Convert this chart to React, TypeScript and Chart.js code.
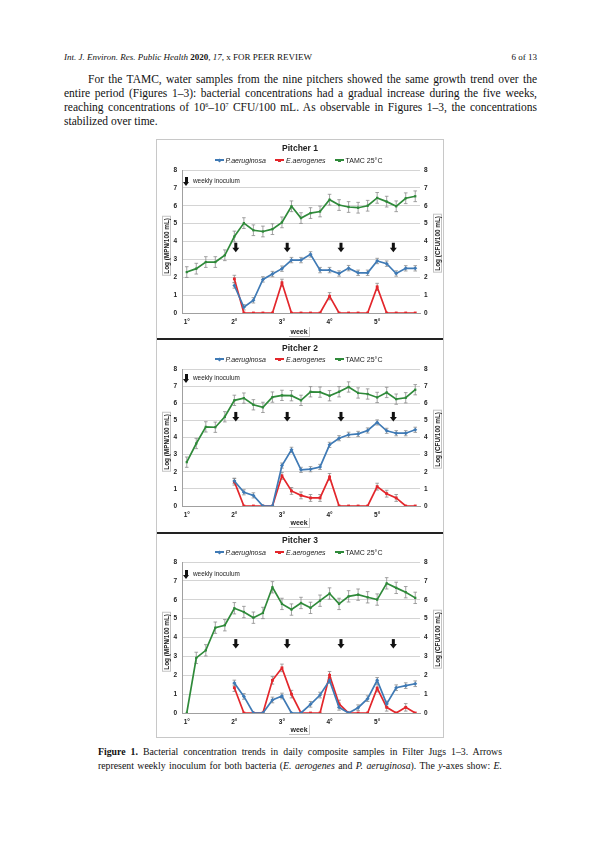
import React, { useEffect, useRef } from 'react';
import { Chart, registerables } from 'chart.js';
Chart.register(...registerables);

// ---------- data ----------
const dayLabels = ['1°', '', '', '', '', '2°', '', '', '', '', '3°', '', '', '', '', '4°', '', '', '', '', '5°', '', '', '', ''];
const yTicks = [0, 1, 2, 3, 4, 5, 6, 7, 8];
const arrowDays = [5.15, 10.55, 16.2, 21.7];

const p1Tamc = [2.29, 2.48, 2.85, 2.85, 3.23, 4.28, 5.03, 4.63, 4.56, 4.69, 5.07, 5.97, 5.31, 5.59, 5.68, 6.34, 6.04, 5.93, 5.89, 6.0, 6.44, 6.23, 5.97, 6.42, 6.53];
const p1Pa = [null, null, null, null, null, 1.54, 0.32, 0.71, 1.88, 2.18, 2.48, 2.96, 2.96, 3.28, 2.4, 2.4, 2.21, 2.51, 2.25, 2.25, 2.91, 2.76, 2.21, 2.5, 2.5];
const p1Ea = [null, null, null, null, null, 1.91, 0, 0, 0, 0, 1.69, 0, 0, 0, 0, 0.94, 0, 0, 0, 0, 1.46, 0, 0, 0, 0];

const p2Tamc = [2.56, 3.65, 4.62, 4.6, 5.21, 6.17, 6.3, 5.91, 5.76, 6.36, 6.46, 6.44, 6.17, 6.67, 6.65, 6.44, 6.67, 6.95, 6.6, 6.54, 6.34, 6.63, 6.24, 6.32, 6.79];
const p2Pa = [null, null, null, null, null, 1.46, 0.8, 0.62, 0, 0, 2.36, 3.28, 2.11, 2.15, 2.28, 3.57, 3.96, 4.16, 4.21, 4.41, 4.88, 4.39, 4.25, 4.25, 4.45];
const p2Ea = [null, null, null, null, null, 1.42, 0, 0, 0, 0, 1.76, 0.88, 0.62, 0.47, 0.47, 1.7, 0, 0, 0, 0, 1.13, 0.72, 0.47, 0, 0];

const p3Tamc = [0, 2.92, 3.32, 4.52, 4.65, 5.55, 5.35, 5.05, 5.3, 6.66, 5.78, 5.48, 5.83, 5.57, 5.95, 6.33, 5.78, 6.18, 6.27, 6.13, 6.01, 6.87, 6.63, 6.4, 6.1];
const p3Pa = [null, null, null, null, null, 1.59, 0.88, 0, 0, 0.69, 0.9, 0, 0, 0.46, 0.95, 1.73, 0.3, 0, 0.28, 0.76, 1.73, 0.48, 1.34, 1.45, 1.55];
const p3Ea = [null, null, null, null, null, 1.34, 0, 0, 0, 1.73, 2.39, 1.0, 0, 0, 0, 2.0, 0.48, 0, 0, 0, 1.32, 0.3, 0, 0.3, 0];

const errTamc = 0.3;
const errPa = 0.15;
const errEa = 0.2;

// ---------- styles ----------
const SANS = "'Liberation Sans', Arial, sans-serif";
const SERIF = "'Liberation Serif', 'Times New Roman', serif";
const BLUE = '#3f7ab5';
const RED = '#e3262b';
const GREEN = '#2f8a3a';
const FIG_LEFT = 157;
const FIG_W = 286;
const PLOT_LEFT = 182;
const PLOT_RIGHT = 420;

const errPlugin = {
  id: 'errbars',
  beforeDatasetsDraw(chart: any) {
    const ctx = chart.ctx;
    const y = chart.scales.y;
    ctx.save();
    ctx.strokeStyle = '#8c8c8c';
    ctx.lineWidth = 0.8;
    chart.data.datasets.forEach((ds: any, di: number) => {
      const meta = chart.getDatasetMeta(di);
      ds.data.forEach((v: any, i: number) => {
        if (v === null || v === 0) return;
        const px = meta.data[i].x;
        const top = y.getPixelForValue(v + ds.err);
        const bot = y.getPixelForValue(v - ds.err);
        ctx.beginPath();
        ctx.moveTo(px, top); ctx.lineTo(px, bot);
        ctx.moveTo(px - 1.8, top); ctx.lineTo(px + 1.8, top);
        ctx.moveTo(px - 1.8, bot); ctx.lineTo(px + 1.8, bot);
        ctx.stroke();
      });
    });
    ctx.restore();
  },
};

function drawArrow(ctx: any, cx: number, cy: number) {
  ctx.fillStyle = '#111';
  ctx.fillRect(cx - 1.5, cy - 5, 3, 5.5);
  ctx.beginPath();
  ctx.moveTo(cx - 3.5, cy);
  ctx.lineTo(cx + 3.5, cy);
  ctx.lineTo(cx, cy + 4.5);
  ctx.closePath();
  ctx.fill();
}

const arrowPlugin = {
  id: 'arrows',
  afterDatasetsDraw(chart: any, _args: any, opts: any) {
    const ctx = chart.ctx;
    const xs = chart.scales.x;
    const ys = chart.scales.y;
    ctx.save();
    arrowDays.forEach((d) => {
      drawArrow(ctx, xs.getPixelForValue(d), ys.getPixelForValue(opts.level));
    });
    ctx.restore();
  },
};

type PanelProps = {
  title: string;
  tamc: number[];
  pa: (number | null)[];
  ea: (number | null)[];
  arrowLevel: number;
  top: number;
  height: number;
  plotTop: number;
  plotBottom: number;
  titleY: number;
  legendY: number;
  inocY: number;
  weekY: number;
  borderTop: boolean;
  thickBottom: boolean;
};

function LegendItem({ color, shape, children }: any) {
  return (
    <span style={{ display: 'inline-flex', alignItems: 'center', marginRight: 9 }}>
      <span style={{ position: 'relative', display: 'inline-block', width: 9, height: 6, marginRight: 2 }}>
        <span style={{ position: 'absolute', left: 0, top: 2.2, width: 9, height: 1.6, background: color }} />
        <span
          style={{
            position: 'absolute',
            left: 3,
            top: 1.5,
            width: 3,
            height: 3,
            background: color,
            transform: shape === 'diamond' ? 'rotate(45deg)' : 'none',
          }}
        />
      </span>
      <span>{children}</span>
    </span>
  );
}

function AxisTitle({ cx, cy, text }: { cx: number; cy: number; text: string }) {
  return (
    <div
      style={{
        position: 'absolute',
        left: cx - 20,
        top: cy - 60,
        width: 40,
        height: 120,
        display: 'flex',
        alignItems: 'center',
        justifyContent: 'center',
      }}
    >
      <div
        style={{
          writingMode: 'vertical-rl',
          transform: 'rotate(180deg)',
          border: '1px solid #c4c4c4',
          padding: '1px 0',
          fontFamily: SANS,
          fontWeight: 'bold',
          fontSize: 6.4,
          color: '#222',
          whiteSpace: 'nowrap',
        }}
      >
        {text}
      </div>
    </div>
  );
}

function Panel(p: PanelProps) {
  const ref = useRef<HTMLCanvasElement>(null);
  useEffect(() => {
    if (!ref.current) return;
    const bottomH = p.height - (p.plotBottom - p.top);
    const chart = new Chart(ref.current, {
      type: 'line',
      data: {
        labels: dayLabels,
        datasets: [
          {
            label: 'P.aeruginosa',
            data: p.pa,
            borderColor: BLUE,
            backgroundColor: BLUE,
            borderWidth: 1.7,
            pointStyle: 'rectRot',
            pointRadius: 2,
            pointBorderWidth: 0,
            err: errPa,
          } as any,
          {
            label: 'E.aerogenes',
            data: p.ea,
            borderColor: RED,
            backgroundColor: RED,
            borderWidth: 1.7,
            pointStyle: 'rect',
            pointRadius: 2,
            pointBorderWidth: 0,
            err: errEa,
          } as any,
          {
            label: 'TAMC 25°C',
            data: p.tamc,
            borderColor: GREEN,
            backgroundColor: GREEN,
            borderWidth: 1.7,
            pointStyle: 'rect',
            pointRadius: 1.6,
            pointBorderWidth: 0,
            err: errTamc,
          } as any,
        ],
      },
      options: {
        animation: false,
        responsive: false,
        devicePixelRatio: 1,
        layout: { padding: { top: p.plotTop - p.top, left: 0, right: 0, bottom: 0 } },
        plugins: {
          legend: { display: false },
          tooltip: { enabled: false },
          title: { display: false },
          arrows: { level: p.arrowLevel },
        } as any,
        scales: {
          x: {
            type: 'category',
            offset: true,
            grid: { color: 'transparent', drawTicks: false },
            border: { display: true, color: '#a0a0a0', width: 1 },
            ticks: {
              autoSkip: false,
              maxRotation: 0,
              padding: 5,
              color: '#222',
              font: { family: SANS, size: 6.5, weight: 'bold' },
            },
            afterFit: (s: any) => { s.height = bottomH; },
          },
          y: {
            position: 'left',
            min: 0,
            max: 8,
            afterBuildTicks: (s: any) => { s.ticks = yTicks.map((v) => ({ value: v })); },
            grid: { color: '#d4d4d4', drawTicks: false },
            border: { display: true, color: '#a0a0a0' },
            ticks: { padding: 5, color: '#222', font: { family: SANS, size: 6.5, weight: 'bold' } },
            afterFit: (s: any) => { s.width = PLOT_LEFT - FIG_LEFT; },
          },
          y2: {
            position: 'right',
            min: 0,
            max: 8,
            afterBuildTicks: (s: any) => { s.ticks = yTicks.map((v) => ({ value: v })); },
            grid: { display: false, drawTicks: false },
            border: { display: false },
            ticks: { padding: 4, color: '#222', font: { family: SANS, size: 6.5, weight: 'bold' } },
            afterFit: (s: any) => { s.width = FIG_LEFT + FIG_W - PLOT_RIGHT; },
          },
        },
      } as any,
      plugins: [errPlugin, arrowPlugin],
    });
    return () => chart.destroy();
  }, []);

  const cx = FIG_LEFT + FIG_W / 2;
  const plotMid = (p.plotTop + p.plotBottom) / 2;
  return (
    <>
      <canvas
        ref={ref}
        width={FIG_W}
        height={p.height}
        style={{ position: 'absolute', left: FIG_LEFT, top: p.top, width: FIG_W, height: p.height }}
      />
      <div
        style={{
          position: 'absolute',
          left: FIG_LEFT - 1,
          top: p.top - (p.borderTop ? 1 : 0),
          width: FIG_W,
          height: p.height,
          borderLeft: '1px solid #c8c8c8',
          borderRight: '1px solid #c8c8c8',
          borderTop: p.borderTop ? '1px solid #c8c8c8' : 'none',
          borderBottom: p.thickBottom ? '2px solid #222' : '1px solid #c8c8c8',
          boxSizing: 'content-box',
          pointerEvents: 'none',
        }}
      />
      <div
        style={{
          position: 'absolute', left: FIG_LEFT, width: FIG_W, top: p.titleY - 6, height: 12, lineHeight: '12px',
          textAlign: 'center', fontFamily: SANS, fontWeight: 'bold', fontSize: 8.5, color: '#222',
        }}
      >
        {p.title}
      </div>
      <div
        style={{
          position: 'absolute', left: FIG_LEFT + 3, width: FIG_W, top: p.legendY - 5, height: 10,
          display: 'flex', justifyContent: 'center', alignItems: 'center',
          fontFamily: SANS, fontSize: 7, color: '#222',
        }}
      >
        <LegendItem color={BLUE} shape="diamond"><i>P.aeruginosa</i></LegendItem>
        <LegendItem color={RED} shape="square"><i>E.aerogenes</i></LegendItem>
        <LegendItem color={GREEN} shape="square">TAMC 25°C</LegendItem>
      </div>
      <div style={{ position: 'absolute', left: 184, top: p.inocY - 4.5, width: 5, height: 9 }}>
        <div style={{ position: 'absolute', left: 1, top: 0, width: 3, height: 5, background: '#111' }} />
        <div
          style={{
            position: 'absolute', left: -1, top: 5, width: 0, height: 0,
            borderLeft: '3.5px solid transparent', borderRight: '3.5px solid transparent', borderTop: '4.5px solid #111',
          }}
        />
      </div>
      <div
        style={{
          position: 'absolute', left: 193, top: p.inocY - 5, height: 10, lineHeight: '10px',
          fontFamily: SANS, fontSize: 6.4, color: '#222', whiteSpace: 'nowrap',
        }}
      >
        weekly inoculum
      </div>
      <AxisTitle cx={166} cy={plotMid + 4} text="Log (MPN/100 mL)" />
      <AxisTitle cx={437} cy={plotMid + 2} text="Log (CFU/100 mL)" />
      <div
        style={{
          position: 'absolute', left: cx - 11, top: p.weekY - 5, width: 21, height: 10, lineHeight: '10px',
          border: '1px solid #c4c4c4', borderTop: 'none', borderLeft: 'none', boxSizing: 'border-box',
          textAlign: 'center', fontFamily: SANS, fontWeight: 'bold', fontSize: 7, color: '#222',
        }}
      >
        week
      </div>
    </>
  );
}

const bodyLine = (top: number, indent: number, justify: boolean, content: any) => (
  <div
    style={{
      position: 'absolute', left: 64 + indent, top, width: 473 - indent, height: 14, lineHeight: '14px',
      fontFamily: SERIF, fontSize: 11.5, color: '#111',
      textAlign: justify ? 'justify' : 'left', textAlignLast: justify ? 'justify' : 'left',
    } as any}
  >
    {content}
  </div>
);

const capLine = (top: number, content: any) => (
  <div
    style={{
      position: 'absolute', left: 98, top, width: 404, height: 13, lineHeight: '13px',
      fontFamily: SERIF, fontSize: 9.8, color: '#111', textAlign: 'justify', textAlignLast: 'justify',
    } as any}
  >
    {content}
  </div>
);

const supStyle = { fontSize: 6, lineHeight: 0, verticalAlign: 'baseline', position: 'relative', top: -4 } as any;

export default function App() {
  return (
    <div style={{ position: 'absolute', left: 0, top: 0, width: 601, height: 850, background: '#fff', overflow: 'hidden' }}>
      <div style={{ position: 'absolute', left: 64, top: 51, fontFamily: SERIF, fontSize: 9, lineHeight: '12px', color: '#111', whiteSpace: 'nowrap' }}>
        <i>Int. J. Environ. Res. Public Health</i> <b>2020</b>, <i>17</i>, x FOR PEER REVIEW
      </div>
      <div style={{ position: 'absolute', left: 437, width: 100, top: 51, fontFamily: SERIF, fontSize: 9, lineHeight: '12px', color: '#111', textAlign: 'right' }}>
        6 of 13
      </div>
      {bodyLine(72, 24, true, 'For the TAMC, water samples from the nine pitchers showed the same growth trend over the')}
      {bodyLine(86, 0, true, 'entire period (Figures 1–3): bacterial concentrations had a gradual increase during the five weeks,')}
      {bodyLine(100, 0, true, <>reaching concentrations of 10<span style={supStyle}>6</span>–10<span style={supStyle}>7</span> CFU/100 mL. As observable in Figures 1–3, the concentrations</>)}
      {bodyLine(114, 0, false, 'stabilized over time.')}

      <Panel title="Pitcher 1" tamc={p1Tamc} pa={p1Pa} ea={p1Ea} arrowLevel={3.65}
        top={140} height={198} plotTop={170} plotBottom={313} titleY={148} legendY={160} inocY={181} weekY={332}
        borderTop={true} thickBottom={true} />
      <Panel title="Pitcher 2" tamc={p2Tamc} pa={p2Pa} ea={p2Ea} arrowLevel={5.2}
        top={338} height={194} plotTop={369} plotBottom={506} titleY={348} legendY={359} inocY={378} weekY={523}
        borderTop={false} thickBottom={true} />
      <Panel title="Pitcher 3" tamc={p3Tamc} pa={p3Pa} ea={p3Ea} arrowLevel={3.65}
        top={532} height={205} plotTop={562} plotBottom={713} titleY={540} legendY={552} inocY={574} weekY={730}
        borderTop={false} thickBottom={false} />

      {capLine(745, <><b>Figure 1.</b> Bacterial concentration trends in daily composite samples in Filter Jugs 1–3. Arrows</>)}
      {capLine(759, <>represent weekly inoculum for both bacteria (<i>E. aerogenes</i> and <i>P. aeruginosa</i>). The <i>y</i>-axes show: <i>E.</i></>)}
    </div>
  );
}
